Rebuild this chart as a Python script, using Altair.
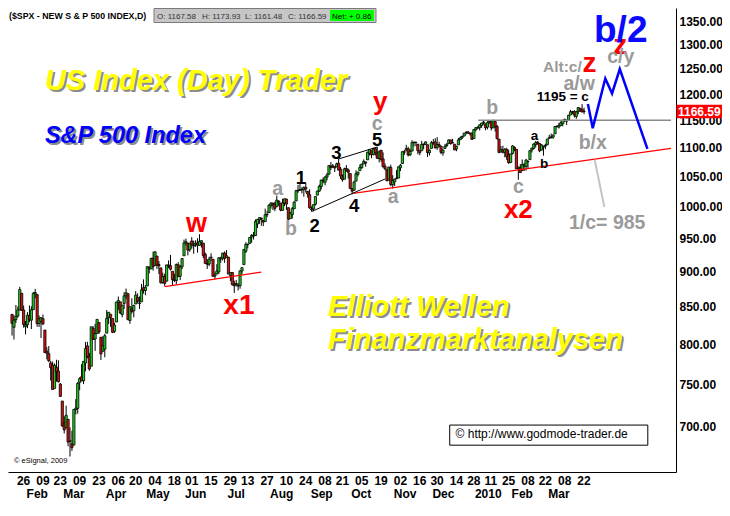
import altair as alt
import pandas as pd

# ---------------- daily $SPX bars (open, high, low, close), by month ----------------
JAN09 = [(839.7, 839.7, 811.3, 827.5), (822.2, 838.6, 806.1, 832.0), (832.5, 852.5, 827.7, 836.6),
         (837.3, 850.5, 835.4, 845.7), (845.7, 877.9, 845.7, 874.1), (868.9, 868.9, 844.2, 845.1),
         (845.7, 851.7, 821.7, 825.9)]
FEB09 = [(823.1, 830.8, 812.9, 825.4), (825.7, 842.6, 821.1, 838.5), (837.8, 851.9, 829.2, 832.2),
         (831.8, 850.6, 819.9, 845.9), (846.1, 870.8, 845.9, 868.6), (868.2, 875.0, 861.7, 869.9),
         (866.9, 868.1, 822.9, 827.2), (827.4, 838.2, 822.6, 833.7), (829.9, 835.5, 808.1, 835.2),
         (833.9, 839.4, 825.2, 826.8), (818.6, 818.6, 789.2, 789.2), (791.1, 796.2, 780.7, 788.4),
         (787.9, 797.6, 777.0, 778.9), (775.9, 778.7, 754.3, 770.1), (773.3, 777.9, 743.4, 743.3),
         (744.7, 775.5, 744.7, 773.1), (770.6, 780.1, 752.9, 764.9), (765.8, 779.4, 751.8, 752.8),
         (749.9, 751.3, 734.5, 735.1)]
MAR09 = [(729.6, 729.6, 699.7, 700.8), (704.4, 711.7, 692.3, 696.3), (698.6, 724.1, 698.6, 712.9),
         (708.3, 708.3, 677.9, 682.6), (684.0, 699.1, 666.8, 683.4), (680.8, 695.3, 672.9, 676.5),
         (679.3, 719.6, 679.3, 719.6), (719.6, 731.9, 713.9, 721.4), (720.9, 752.6, 714.8, 750.7),
         (751.97, 758.3, 742.5, 756.6), (758.8, 774.5, 753.4, 753.9), (753.9, 778.1, 749.9, 778.1),
         (776.0, 803.0, 765.6, 794.4), (797.9, 803.2, 781.8, 784.0), (784.6, 788.9, 766.2, 768.5),
         (772.0, 823.0, 772.0, 822.9), (820.6, 823.7, 805.5, 806.1), (806.8, 826.8, 791.4, 813.9),
         (814.1, 832.9, 814.1, 832.9), (828.7, 828.7, 813.4, 815.9), (809.1, 809.1, 779.8, 787.5),
         (790.9, 810.5, 790.9, 797.9)]
APR09 = [(793.6, 813.6, 783.3, 811.1), (814.5, 845.6, 814.5, 834.4), (835.1, 842.5, 826.7, 842.5),
         (839.8, 839.8, 822.8, 835.5), (834.1, 834.1, 814.5, 815.6), (816.8, 828.4, 814.8, 825.2),
         (829.3, 856.9, 829.3, 856.6), (855.9, 864.3, 845.4, 858.7), (856.9, 856.9, 840.2, 841.5),
         (839.4, 852.9, 835.6, 852.1), (854.5, 870.4, 847.0, 865.3), (865.2, 875.6, 860.9, 869.6),
         (868.3, 868.3, 832.4, 832.4), (831.3, 850.1, 826.8, 850.1), (847.3, 861.8, 840.6, 843.6),
         (844.6, 852.9, 835.6, 851.9), (853.9, 871.8, 853.9, 866.2), (862.8, 868.8, 854.7, 857.5),
         (854.5, 864.5, 847.1, 855.2), (856.9, 882.1, 856.9, 873.6), (876.6, 888.7, 868.4, 872.8)]
MAY09 = [(872.7, 880.5, 866.1, 877.5), (879.2, 907.9, 879.2, 907.2), (906.1, 907.7, 897.3, 903.8),
         (903.9, 920.3, 903.9, 919.5), (919.6, 929.6, 901.4, 907.4), (909.0, 930.2, 909.0, 929.2),
         (922.9, 922.9, 903.7, 909.2), (910.5, 915.6, 896.5, 908.4), (905.4, 905.4, 882.5, 883.9),
         (884.2, 898.4, 882.5, 893.1), (892.8, 896.97, 878.9, 882.9), (886.1, 910.0, 886.1, 909.7),
         (909.7, 916.4, 905.2, 908.1), (908.6, 924.6, 901.4, 903.5), (900.4, 900.4, 879.6, 888.3),
         (888.7, 896.7, 884.8, 887.0), (887.0, 911.8, 881.5, 910.3), (909.95, 913.8, 891.9, 893.1),
         (892.96, 909.5, 887.6, 906.8), (907.0, 920.0, 903.6, 919.1)]
JUN09 = [(923.3, 947.8, 923.3, 942.9), (942.9, 949.4, 938.5, 944.7), (942.5, 942.5, 923.9, 931.8),
         (932.5, 942.5, 929.3, 942.5), (945.7, 951.7, 934.1, 940.1), (938.1, 946.3, 926.4, 939.1),
         (940.4, 946.9, 936.7, 942.4), (942.7, 949.8, 927.97, 939.2), (939.0, 956.2, 939.0, 944.9),
         (943.4, 946.3, 935.7, 946.2), (942.5, 942.5, 919.7, 923.7), (925.6, 928.0, 911.6, 912.0),
         (911.9, 918.4, 903.8, 910.7), (910.9, 921.9, 907.9, 918.4), (919.96, 927.1, 915.8, 921.2),
         (918.1, 918.1, 893.0, 893.0), (893.5, 898.7, 888.9, 895.1), (896.3, 910.9, 896.3, 900.9),
         (899.5, 921.4, 896.3, 920.3), (918.8, 922.0, 913.0, 918.9), (919.9, 927.99, 916.2, 927.2),
         (927.2, 930.0, 912.9, 919.3)]
JUL09 = [(920.8, 931.9, 920.8, 923.3), (921.2, 921.2, 896.4, 896.4), (894.3, 898.7, 886.4, 898.7),
         (898.6, 898.6, 879.9, 881.0), (881.9, 886.8, 869.3, 879.6), (881.3, 887.9, 878.5, 882.7),
         (880.0, 883.6, 872.8, 879.1), (879.6, 901.1, 875.3, 901.1), (900.8, 905.8, 896.5, 905.8),
         (910.2, 933.0, 910.2, 932.7), (930.2, 943.96, 927.5, 940.7), (940.6, 941.9, 934.4, 940.4),
         (942.1, 951.6, 940.9, 951.1), (951.97, 956.5, 943.2, 954.6), (953.4, 959.8, 947.9, 954.1),
         (954.1, 979.4, 953.3, 976.3), (972.2, 979.8, 965.95, 979.3), (978.6, 982.5, 972.3, 982.2),
         (981.5, 982.2, 969.4, 979.6), (977.7, 977.8, 968.7, 975.2), (976.0, 996.7, 976.0, 986.8),
         (986.8, 993.2, 982.9, 987.5)]
AUG09 = [(990.2, 1003.6, 990.2, 1002.6), (1001.4, 1007.1, 996.7, 1005.7), (1005.4, 1006.6, 994.3, 1002.7),
         (1004.1, 1008.0, 992.5, 997.1), (999.8, 1018.0, 999.8, 1010.5), (1008.9, 1010.1, 1000.99, 1007.1),
         (1005.8, 1005.8, 992.4, 994.4), (994.0, 1012.8, 993.4, 1005.8), (1005.9, 1013.1, 1000.8, 1012.7),
         (1012.2, 1012.6, 994.6, 1004.1), (998.2, 998.2, 978.5, 979.7), (980.6, 991.2, 980.6, 989.7),
         (986.9, 999.6, 980.6, 996.5), (996.4, 1008.9, 996.4, 1007.4), (1009.1, 1027.6, 1009.1, 1026.1),
         (1026.6, 1035.8, 1022.5, 1025.6), (1026.6, 1037.8, 1026.2, 1028.0), (1027.4, 1032.5, 1021.6, 1028.1),
         (1027.8, 1033.3, 1016.2, 1031.0), (1031.6, 1039.5, 1023.1, 1028.9), (1025.2, 1025.2, 1014.6, 1020.6)]
SEP09 = [(1019.5, 1028.5, 996.3, 998.0), (996.1, 1000.3, 991.97, 994.8), (996.1, 1003.4, 992.3, 1003.2),
         (1003.8, 1016.5, 1001.7, 1016.4), (1018.7, 1026.1, 1018.7, 1025.4), (1025.4, 1036.3, 1023.97, 1033.4),
         (1032.99, 1044.1, 1028.0, 1044.1), (1043.9, 1048.2, 1038.4, 1042.7), (1040.2, 1049.7, 1035.0, 1049.3),
         (1049.0, 1056.0, 1043.4, 1052.6), (1053.99, 1068.8, 1052.9, 1068.8), (1067.9, 1074.8, 1061.0, 1065.5),
         (1066.6, 1071.5, 1064.3, 1068.3), (1067.1, 1067.3, 1057.5, 1064.7), (1066.4, 1073.8, 1066.4, 1071.7),
         (1072.7, 1080.2, 1060.4, 1060.9), (1062.6, 1066.3, 1045.9, 1050.8), (1049.5, 1053.5, 1041.2, 1044.4),
         (1045.4, 1065.1, 1045.4, 1063.0), (1063.7, 1069.6, 1057.8, 1060.6), (1061.0, 1063.4, 1046.5, 1057.1)]
OCT09 = [(1054.9, 1054.9, 1029.5, 1029.9), (1029.7, 1030.6, 1019.95, 1025.2), (1026.9, 1042.6, 1025.9, 1040.5),
         (1042.0, 1060.6, 1042.0, 1054.7), (1053.7, 1058.0, 1050.1, 1057.6), (1060.0, 1070.7, 1060.0, 1065.5),
         (1065.3, 1071.5, 1063.0, 1071.5), (1071.6, 1079.5, 1071.6, 1076.2), (1074.96, 1075.3, 1066.7, 1073.2),
         (1078.7, 1093.2, 1078.7, 1092.0), (1090.4, 1096.6, 1086.4, 1096.6), (1094.7, 1094.7, 1081.5, 1087.7),
         (1088.2, 1100.2, 1086.5, 1097.9), (1098.6, 1098.6, 1086.2, 1091.1), (1090.4, 1101.4, 1080.8, 1081.4),
         (1080.96, 1095.2, 1074.3, 1092.9), (1095.6, 1095.8, 1075.5, 1079.6), (1080.4, 1091.8, 1065.2, 1066.95),
         (1067.5, 1072.5, 1060.6, 1063.4), (1061.5, 1063.3, 1042.2, 1042.6), (1043.7, 1066.8, 1043.7, 1066.1),
         (1065.4, 1070.2, 1033.4, 1036.2)]
NOV09 = [(1036.2, 1052.2, 1029.4, 1042.9), (1040.9, 1046.4, 1033.9, 1045.4), (1047.3, 1061.0, 1045.2, 1046.5),
         (1047.3, 1066.7, 1047.3, 1066.6), (1064.95, 1071.5, 1059.3, 1069.3), (1072.3, 1093.2, 1072.3, 1093.1),
         (1092.2, 1096.1, 1087.4, 1093.0), (1096.0, 1105.4, 1093.8, 1098.5), (1098.3, 1101.7, 1084.7, 1087.2),
         (1087.6, 1097.8, 1085.3, 1093.5), (1094.1, 1113.7, 1094.1, 1109.3), (1109.2, 1110.5, 1102.2, 1110.3),
         (1109.4, 1111.1, 1102.7, 1109.8), (1106.4, 1106.4, 1088.4, 1094.9), (1094.7, 1094.7, 1086.8, 1091.4),
         (1094.9, 1112.4, 1094.9, 1106.2), (1106.5, 1107.6, 1097.6, 1105.7), (1106.5, 1111.2, 1104.8, 1110.6),
         (1105.5, 1105.5, 1083.7, 1091.5), (1091.1, 1097.2, 1086.3, 1095.6)]
DEC09 = [(1098.9, 1112.3, 1098.9, 1108.9), (1109.0, 1115.6, 1105.3, 1109.2), (1110.6, 1117.3, 1098.7, 1099.9),
         (1100.4, 1119.1, 1096.5, 1106.0), (1105.5, 1110.7, 1100.8, 1103.3), (1103.0, 1103.0, 1088.6, 1091.9),
         (1091.1, 1097.0, 1085.9, 1096.0), (1098.7, 1106.3, 1098.7, 1102.4), (1103.96, 1108.5, 1101.3, 1106.4),
         (1107.8, 1114.8, 1107.8, 1114.1), (1114.1, 1114.1, 1105.4, 1107.9), (1108.6, 1116.2, 1107.96, 1109.2),
         (1106.4, 1106.4, 1095.9, 1096.1), (1097.9, 1103.7, 1093.9, 1102.5), (1105.3, 1117.7, 1105.3, 1114.1),
         (1114.5, 1120.3, 1114.5, 1118.0), (1118.8, 1121.6, 1116.0, 1120.6), (1121.1, 1126.5, 1121.1, 1126.5),
         (1127.5, 1130.4, 1124.0, 1127.8), (1128.6, 1130.4, 1126.1, 1126.2), (1125.5, 1126.4, 1121.9, 1126.4),
         (1126.6, 1127.6, 1114.8, 1115.1)]
JAN10 = [(1116.6, 1133.9, 1116.6, 1133.0), (1132.7, 1136.6, 1129.7, 1136.5), (1135.7, 1139.2, 1133.9, 1137.1),
         (1136.3, 1142.5, 1131.3, 1141.7), (1140.5, 1145.4, 1136.2, 1145.0), (1145.96, 1149.7, 1142.0, 1147.0),
         (1143.8, 1143.8, 1131.8, 1136.2), (1137.3, 1148.4, 1133.2, 1145.7), (1145.7, 1150.4, 1143.8, 1148.5),
         (1147.7, 1147.7, 1131.4, 1136.0), (1136.0, 1150.45, 1135.8, 1150.2), (1147.95, 1147.95, 1129.3, 1138.0),
         (1138.7, 1141.6, 1114.8, 1116.5), (1115.5, 1115.5, 1090.2, 1091.8), (1092.4, 1102.97, 1092.4, 1096.8),
         (1095.8, 1103.7, 1089.9, 1092.2), (1091.9, 1099.5, 1083.1, 1097.5), (1096.9, 1100.2, 1078.5, 1084.5),
         (1087.6, 1096.5, 1071.6, 1073.9)]
FEB10 = [(1073.9, 1089.4, 1073.9, 1089.2), (1090.1, 1104.7, 1087.96, 1103.3), (1100.7, 1102.7, 1093.97, 1097.3),
         (1097.3, 1097.3, 1062.8, 1063.1), (1064.1, 1067.1, 1044.5, 1066.2), (1065.5, 1071.2, 1056.5, 1056.7),
         (1060.1, 1079.3, 1060.1, 1070.5), (1069.7, 1073.7, 1059.3, 1068.1), (1067.1, 1080.0, 1060.1, 1078.5),
         (1075.95, 1077.8, 1062.97, 1075.5), (1079.1, 1095.7, 1079.1, 1094.9), (1096.1, 1100.0, 1091.5, 1099.5),
         (1099.0, 1108.2, 1097.1, 1106.75), (1105.5, 1112.4, 1100.8, 1109.2), (1110.0, 1112.3, 1105.4, 1108.0),
         (1107.5, 1108.6, 1092.2, 1094.6), (1095.9, 1106.4, 1095.9, 1105.2), (1101.2, 1103.5, 1086.0, 1102.9),
         (1103.1, 1107.2, 1097.6, 1104.5)]
MAR10 = [(1105.4, 1116.1, 1105.4, 1115.7), (1117.0, 1123.5, 1116.5, 1118.3), (1119.4, 1125.6, 1116.6, 1118.8),
         (1119.1, 1123.7, 1116.1, 1123.0), (1125.1, 1139.4, 1125.1, 1138.7), (1138.4, 1141.1, 1136.8, 1138.5),
         (1137.6, 1145.4, 1134.9, 1140.5), (1140.2, 1148.3, 1140.1, 1145.6), (1143.96, 1150.2, 1138.99, 1150.2),
         (1151.7, 1153.4, 1146.97, 1150.0), (1148.5, 1150.98, 1141.5, 1150.5), (1150.8, 1160.3, 1150.4, 1159.5),
         (1160.0, 1169.8, 1159.9, 1166.2), (1166.1, 1167.8, 1161.9, 1165.8), (1166.7, 1169.2, 1155.3, 1159.9),
         (1157.3, 1167.8, 1152.9, 1165.8), (1166.5, 1174.7, 1161.5, 1174.2), (1172.7, 1173.0, 1166.0, 1167.7),
         (1170.0, 1180.7, 1165.1, 1165.73), (1167.58, 1173.93, 1161.48, 1166.59)]

HOLIDAYS = ["2009-02-16", "2009-04-10", "2009-05-25", "2009-07-03", "2009-09-07", "2009-11-26",
            "2009-12-25", "2010-01-01", "2010-01-18", "2010-02-15"]
FIRST_DAY, LAST_DAY, ZERO_DAY = "2009-01-22", "2010-03-26", "2009-01-26"

# axis ticks
Y_TICKS = [700, 750, 800, 850, 900, 950, 1000, 1050, 1100, 1150, 1200, 1250, 1300, 1350]
DAY_TICKS = ["2009-01-26", "2009-02-09", "2009-02-23", "2009-03-09", "2009-03-23", "2009-04-06",
             "2009-04-20", "2009-05-04", "2009-05-18", "2009-06-01", "2009-06-15", "2009-06-29",
             "2009-07-13", "2009-07-27", "2009-08-10", "2009-08-24", "2009-09-08", "2009-09-21",
             "2009-10-05", "2009-10-19", "2009-11-02", "2009-11-16", "2009-11-30", "2009-12-14",
             "2009-12-28", "2010-01-11", "2010-01-25", "2010-02-08", "2010-02-22", "2010-03-08",
             "2010-03-22"]
MONTH_TICKS = ["2009-02-02", "2009-03-02", "2009-04-01", "2009-05-01", "2009-06-01", "2009-07-01",
               "2009-08-03", "2009-09-01", "2009-10-01", "2009-11-02", "2009-12-01", "2010-01-04",
               "2010-02-01", "2010-03-01"]
MONTH_LABELS = ["Feb", "Mar", "Apr", "May", "Jun", "Jul", "Aug", "Sep", "Oct", "Nov", "Dec", "2010",
                "Feb", "Mar"]

# annotation labels: (text, bar index, price at baseline)
GRAY_T = ["a", "b", "c", "a", "b", "c"]
GRAY_X = [135.5, 142.3, 187.0, 195.2, 246.5, 260.0]
GRAY_P = [1018.4, 954.3, 1132.7, 1006.2, 1162.5, 1021.5]
WAVE_T = ["1", "2", "3", "4", "5"]
WAVE_X = [147.5, 154.6, 165.9, 175.0, 186.9]
WAVE_P = [1037.1, 959.4, 1080.9, 991.7, 1103.7]
SMALL_T = ["a", "b", "1195 = c"]
SMALL_X = [268.3, 273.3, 283.0]
SMALL_P = [1114.1, 1065.3, 1186.8]
RED_T = ["w", "x1", "y", "x2", "z", "z"]
RED_X = [93.5, 115.4, 188.5, 260.0, 312.7, 296.8]
RED_P = [959.4, 840.4, 1168.9, 982.1, 1279.8, 1243.6]
RED_S = [27, 28, 26, 26, 28, 28]
GRAY2_T = ["c/y", "a/w", "b/x", "1/c= 985"]
GRAY2_X = [313.0, 291.5, 298.5, 306.0]
GRAY2_P = [1262.5, 1208.7, 1097.9, 964.3]
ALT_T, ALT_X, ALT_P = "Alt:c/", 292.8, 1243.6
B2_T, B2_X, B2_P = "b/2", 313.0, 1306.0
TITLES_T = ["US Index (Day) Trader", "Elliott Wellen", "Finanzmarktanalysen"]
TITLES_X = [15.0, 161.5, 161.5]
TITLES_P = [1208.7, 836.9, 793.7]
SP_T, SP_X, SP_P = "S&P 500 Index", 15.0, 1107.7

# drawn lines: segment id -> points (bar index, price)
RED_LINES = {"x1": [(77, 878.3), (127, 899.2)], "x2": [(174.5, 1021.6), (339, 1099.0)]}
BLACK_LINES = {"lo": [(153, 992.0), (191, 1045.7)], "hi": [(167, 1080.2), (187, 1101.4)]}
GRAY_LINE = [(239.3, 1150.45), (339, 1150.45)]
BLUE_PATH = [(296, 1180.7), (298.5, 1135.6), (305, 1230.9), (308.5, 1201.2), (312.5, 1249.8), (326.8, 1098.2)]
LIGHT_LINE = [(299.5, 1078.8), (304.5, 999.5)]
COPY_BOX = [(224.5, 679.2), (327.0, 701.7)]
COPY_T, COPY_X, COPY_P = "\u00a9 http://www.godmode-trader.de", 227.5, 686.8
ES_T, ES_X, ES_P = "\u00a9 eSignal, 2009", -1.0, 659.4
TITLE = "($SPX - NEW S & P 500 INDEX,D)"

# ---------------- build tables ----------------
bars = (JAN09 + FEB09 + MAR09 + APR09 + MAY09 + JUN09 + JUL09 + AUG09 + SEP09 + OCT09 + NOV09 +
        DEC09 + JAN10 + FEB10 + MAR10)
days = [d.strftime("%Y-%m-%d") for d in pd.bdate_range(FIRST_DAY, LAST_DAY)]
days = [d for d in days if d not in HOLIDAYS]
assert len(days) == len(bars), (len(days), len(bars))
z0 = days.index(ZERO_DAY)
IDX = {d: i - z0 for i, d in enumerate(days)}

cdf = pd.DataFrame(bars, columns=["open", "high", "low", "close"])
cdf["idx"] = [IDX[d] for d in days]
cdf["col"] = ["#1cd21c" if c >= o else "#e01010" for o, c in zip(cdf["open"], cdf["close"])]

W, H = 668, 464
XS = alt.Scale(domain=[-1.5, 339], nice=False, zero=False)
YS = alt.Scale(type="log", domain=[650.3, 1379.8], nice=False)
XAX = alt.Axis(labels=False, ticks=False, grid=False, title=None, domainColor="black", domainWidth=1)
YAX = alt.Axis(orient="right", values=Y_TICKS, format=".2f", labelFont="Liberation Sans",
               labelFontWeight="bold", labelFontSize=12, labelColor="black", ticks=False, grid=False,
               title=None, domainColor="black", domainWidth=1, labelPadding=3, labelOverlap=False)


def X(f="idx"):
    return alt.X(f + ":Q", scale=XS, axis=XAX)


def Y(f="price"):
    return alt.Y(f + ":Q", scale=YS, axis=YAX)


FONT = "Liberation Sans"

wicks = alt.Chart(cdf).mark_rule(color="black", strokeWidth=1, clip=True).encode(
    x=X(), y=Y("low"), y2="high")
bodies = alt.Chart(cdf).mark_bar(size=2.2, stroke="black", strokeWidth=0.8, clip=True).encode(
    x=X(), y=Y("open"), y2="close", color=alt.Color("col:N", scale=None))


def lines_df(d):
    rows = []
    for k, pts in d.items():
        for j, (x, p) in enumerate(pts):
            rows.append({"seg": k, "k": j, "idx": x, "price": p})
    return pd.DataFrame(rows)


def line_layer(d, color, width):
    return alt.Chart(lines_df(d)).mark_line(color=color, strokeWidth=width).encode(
        x=X(), y=Y(), detail="seg:N", order="k:Q")


layers = [wicks, bodies,
          line_layer(RED_LINES, "#ff0000", 1.2),
          line_layer(BLACK_LINES, "black", 1),
          line_layer({"g": GRAY_LINE}, "#8a8a8a", 1.5),
          line_layer({"l": LIGHT_LINE}, "#c4c4c4", 2),
          line_layer({"b": BLUE_PATH}, "#0000ff", 2.5)]


def text_layer(ts, xs, ps, color, size, weight="bold", align="center", style="normal",
               dx=0, dy=0, font=FONT, sizes=None):
    df = pd.DataFrame({"t": ts, "idx": xs, "price": ps})
    enc = dict(x=X(), y=Y(), text="t:N")
    if sizes is not None:
        df["s"] = sizes
        enc["size"] = alt.Size("s:Q", scale=None)
    return alt.Chart(df).mark_text(font=font, fontWeight=weight, fontSize=size, color=color,
                                   align=align, baseline="alphabetic", fontStyle=style,
                                   dx=dx, dy=dy).encode(**enc)


layers += [
    text_layer(GRAY_T, GRAY_X, GRAY_P, "#9a9a9a", 19.5),
    text_layer(WAVE_T, WAVE_X, WAVE_P, "black", 18.5),
    text_layer(SMALL_T, SMALL_X, SMALL_P, "black", 13.5),
    text_layer(RED_T, RED_X, RED_P, "#ff0000", 27, sizes=RED_S),
    text_layer(GRAY2_T, GRAY2_X, GRAY2_P, "#9a9a9a", 19.5),
    text_layer([ALT_T], [ALT_X], [ALT_P], "#9a9a9a", 15.5, align="right"),
    text_layer([B2_T], [B2_X], [B2_P], "#0a0aff", 37),
    text_layer(TITLES_T, TITLES_X, TITLES_P, "#8c8c8c", 29, align="left", style="italic", dx=2, dy=2),
    text_layer(TITLES_T, TITLES_X, TITLES_P, "#ffff00", 29, align="left", style="italic"),
    text_layer([SP_T], [SP_X], [SP_P], "#8c8c8c", 23.5, align="left", style="italic", dx=2, dy=2),
    text_layer([SP_T], [SP_X], [SP_P], "#0000ff", 23.5, align="left", style="italic"),
]

# copyright box + texts
box = pd.DataFrame({"idx": [COPY_BOX[0][0]], "idx2": [COPY_BOX[1][0]],
                    "price": [COPY_BOX[0][1]], "price2": [COPY_BOX[1][1]]})
layers.append(alt.Chart(box).mark_rect(fill="white", stroke="black", strokeWidth=1).encode(
    x=X(), x2="idx2:Q", y=Y(), y2="price2:Q"))
layers.append(text_layer([COPY_T], [COPY_X], [COPY_P], "black", 12, weight="normal", align="left"))
layers.append(text_layer([ES_T], [ES_X], [ES_P], "black", 7.5, weight="normal", align="left"))

# x-axis labels drawn as text under the frame
dt = pd.DataFrame({"t": [d[8:10] for d in DAY_TICKS], "idx": [IDX[d] for d in DAY_TICKS]})
mt = pd.DataFrame({"t": MONTH_LABELS, "idx": [IDX[d] for d in MONTH_TICKS]})
for df, yy in ((dt, H + 13), (mt, H + 26)):
    layers.append(alt.Chart(df).mark_text(font=FONT, fontWeight="bold", fontSize=12, color="black",
                                          align="left", baseline="alphabetic", dx=1).encode(
        x=X(), y=alt.value(yy), text="t:N"))

# last price marker on the price axis
o, h, l, c = bars[-1]
net = c - bars[-2][3]
last = pd.DataFrame({"price": [c], "t": [f"{c:.2f}"]})
layers.append(alt.Chart(last).mark_rule(color="#ff0000", strokeWidth=13.5, strokeCap="butt").encode(
    y=Y(), x=alt.value(W + 0.5), x2=alt.value(W + 47)))
layers.append(alt.Chart(last).mark_text(font=FONT, fontWeight="bold", fontSize=12, color="white",
                                        align="left", baseline="middle").encode(
    y=Y(), x=alt.value(W + 2), text="t:N"))

# header strip
hdr = pd.DataFrame({"t": [0]})
layers.append(alt.Chart(hdr).mark_rect(fill="#c6c6c6", stroke="#7a7a7a", strokeWidth=1).encode(
    x=alt.value(146), x2=alt.value(368), y=alt.value(0.5), y2=alt.value(14.5)))
layers.append(alt.Chart(hdr).mark_rect(fill="#00ff00").encode(
    x=alt.value(322), x2=alt.value(366), y=alt.value(2), y2=alt.value(13)))
HDR_T = [TITLE, f"O: {o:.2f}", f"H: {h:.2f}", f"L: {l:.2f}", f"C: {c:.2f}", f"Net: + {net:.2f}"]
HDR_X = [1, 149, 194, 237, 280, 324]
for i, (t, xx) in enumerate(zip(HDR_T, HDR_X)):
    layers.append(alt.Chart(pd.DataFrame({"t": [t]})).mark_text(
        font=FONT, fontWeight="bold" if i == 0 else "normal", fontSize=8.8 if i == 0 else 8,
        color="black" if i in (0, 5) else "#333333", align="left", baseline="alphabetic").encode(
        x=alt.value(xx), y=alt.value(11), text="t:N"))

chart = alt.layer(*layers).properties(
    width=W, height=H, padding={"left": 0, "top": 0, "right": 46, "bottom": 32},
    autosize=alt.AutoSizeParams(type="none"), background="white"
).configure_view(stroke=None)

chart.save("out.html", embed_options={"renderer": "svg", "actions": False})
